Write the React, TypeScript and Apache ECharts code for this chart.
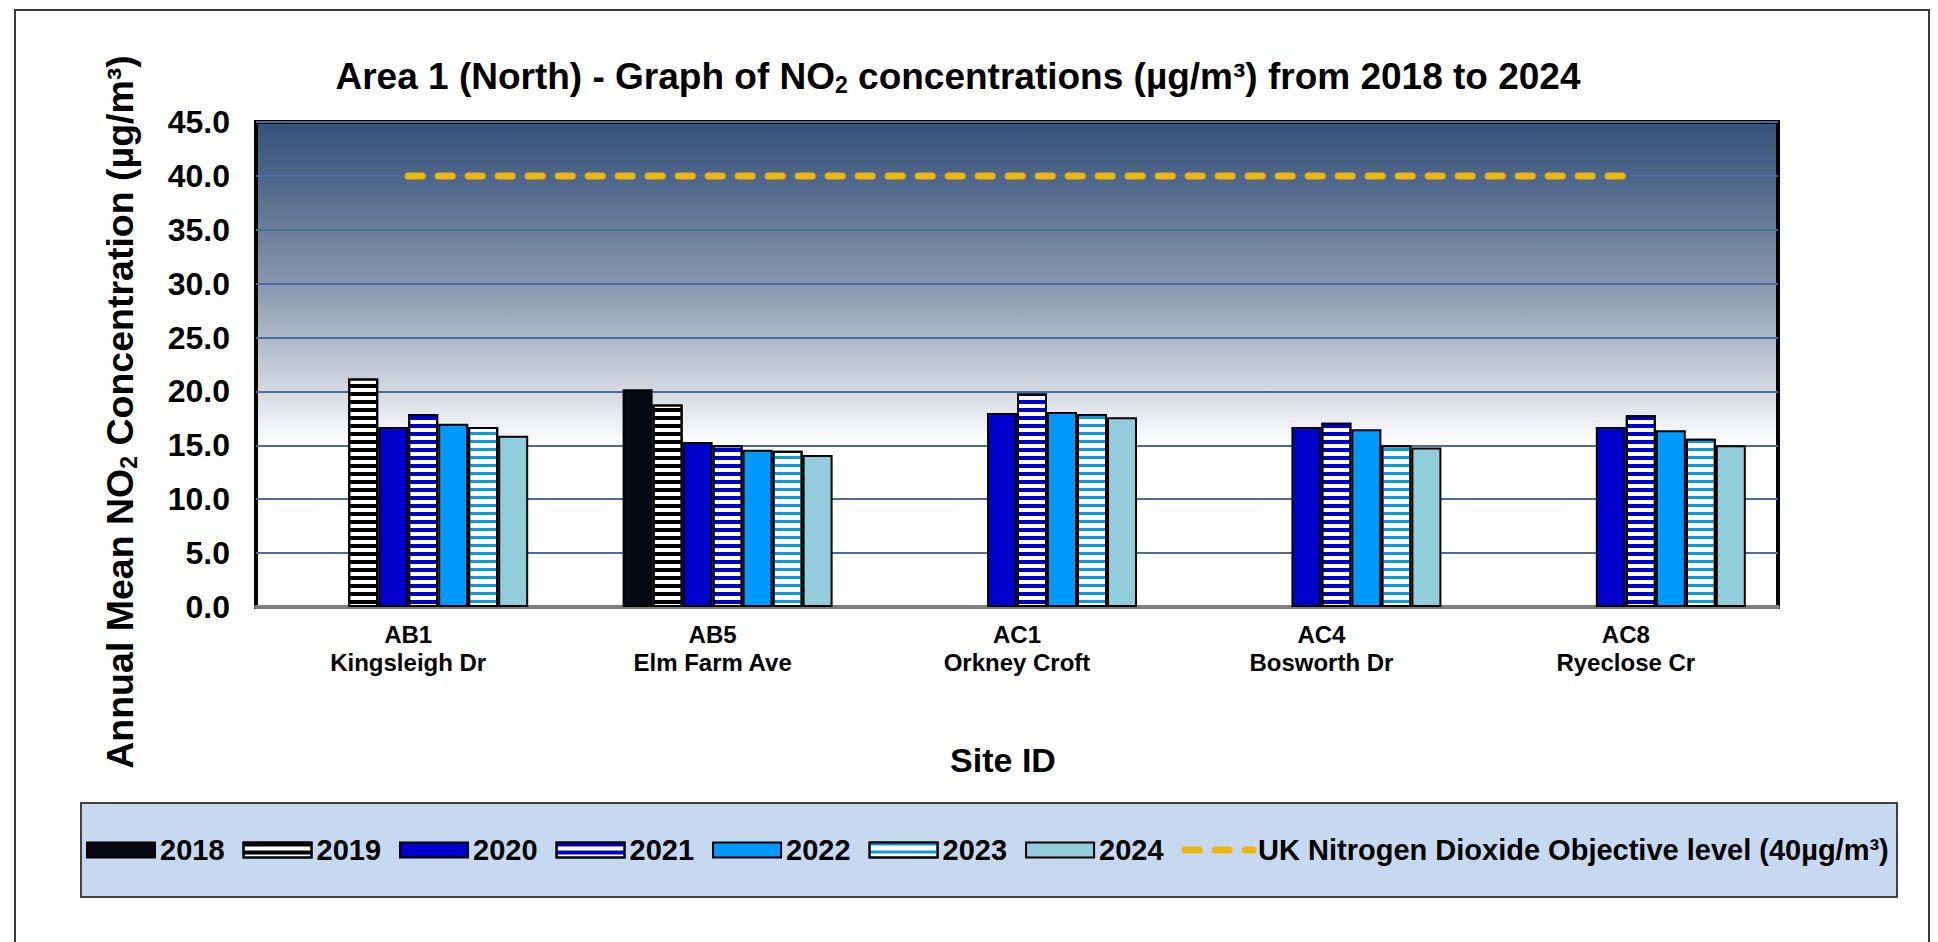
import React, { useEffect, useRef } from 'react';
import * as echarts from 'echarts';

const siteIds = ['AB1', 'AB5', 'AC1', 'AC4', 'AC8'];
const siteNames = ['Kingsleigh Dr', 'Elm Farm Ave', 'Orkney Croft', 'Bosworth Dr', 'Ryeclose Cr'];
const years = ['2018', '2019', '2020', '2021', '2022', '2023', '2024'];
const v2018 = [null, 20.2, null, null, null];
const v2019 = [21.2, 18.8, null, null, null];
const v2020 = [16.7, 15.3, 18.0, 16.7, 16.7];
const v2021 = [17.9, 15.0, 19.8, 17.1, 17.8];
const v2022 = [17.0, 14.6, 18.1, 16.5, 16.4];
const v2023 = [16.7, 14.5, 17.9, 15.0, 15.6];
const v2024 = [15.9, 14.1, 17.6, 14.8, 15.0];
const objectiveLevel = 40;
const objectiveName = 'UK Nitrogen Dioxide Objective level (40µg/m³)';
const yTicks = { min: 0, max: 45, interval: 5 };

const FONT = '"Liberation Sans", Arial, sans-serif';
const GOLD = '#edb50f';

export default function App() {
  const ref = useRef<HTMLDivElement>(null);
  useEffect(() => {
    const chart = echarts.init(ref.current!, null, { renderer: 'svg' });
    const values = [v2018, v2019, v2020, v2021, v2022, v2023, v2024];
    const styles: any[] = [
      { color: '#050a14' },
      { color: '#ffffff', decal: { symbol: 'rect', symbolSize: 1, dashArrayX: [1, 0], dashArrayY: [4, 4], color: '#000000', rotation: 0 } },
      { color: '#0000cc' },
      { color: '#ffffff', decal: { symbol: 'rect', symbolSize: 1, dashArrayX: [1, 0], dashArrayY: [4, 4], color: '#0000cc', rotation: 0 } },
      { color: '#0099ff' },
      { color: '#ffffff', decal: { symbol: 'rect', symbolSize: 1, dashArrayX: [1, 0], dashArrayY: [3, 5], color: '#0e9bd0', rotation: 0 } },
      { color: '#92cddc' },
    ];
    const barSeries = years.map((y, i) => ({
      name: y,
      type: 'bar',
      data: values[i],
      barWidth: 30,
      barGap: '0%',
      itemStyle: { ...styles[i], borderColor: '#000', borderWidth: 2 },
      z: 3,
    }));
    const option: any = {
      animation: false,
      backgroundColor: '#ffffff',
      textStyle: { fontFamily: FONT },
      grid: {
        left: 256,
        right: 160,
        top: 122,
        bottom: 335,
        show: true,
        borderColor: '#000',
        borderWidth: 4,
        backgroundColor: {
          type: 'linear', x: 0, y: 0, x2: 0, y2: 1,
          colorStops: [
            { offset: 0, color: '#33527a' },
            { offset: 0.111, color: '#4d6688' },
            { offset: 0.333, color: '#8797ae' },
            { offset: 0.555, color: '#d4d9e2' },
            { offset: 0.667, color: '#ffffff' },
            { offset: 1, color: '#ffffff' },
          ],
        },
      },
      xAxis: {
        type: 'category',
        data: siteIds.map((s, i) => s + '\n' + siteNames[i]),
        axisLine: { lineStyle: { color: '#7f7f7f', width: 4 } },
        axisTick: { show: false },
        axisLabel: { color: '#000', fontSize: 24, fontWeight: 'bold', lineHeight: 28, margin: 13, fontFamily: FONT },
      },
      yAxis: {
        type: 'value',
        min: yTicks.min,
        max: yTicks.max,
        interval: yTicks.interval,
        axisLine: { show: false },
        axisTick: { show: false },
        splitLine: { lineStyle: { color: '#4a6c9b', width: 2 } },
        axisLabel: { color: '#000', fontSize: 32, fontWeight: 'bold', margin: 26, fontFamily: FONT, formatter: (v: number) => v.toFixed(1) },
      },
      legend: {
        data: [
          ...years.map((y) => ({ name: y, icon: 'rect' })),
          {
            name: objectiveName,
            itemStyle: { opacity: 0, color: 'transparent', borderWidth: 0 },
            lineStyle: { width: 7, type: [14, 16], cap: 'round', color: GOLD, opacity: 1 },
          },
        ],
        left: 86,
        top: 835,
        padding: 0,
        itemWidth: 68,
        itemHeight: 15,
        itemGap: 18,
        lineStyle: { width: 7 },
        textStyle: { color: '#000', fontSize: 29, fontWeight: 'bold', lineHeight: 30, fontFamily: FONT },
      },
      graphic: [
        { type: 'rect', z: -10, shape: { x: 15, y: 10, width: 1914, height: 980 }, style: { fill: 'none', stroke: '#3a3a3a', lineWidth: 2 } },
        { type: 'rect', z: -5, shape: { x: 81, y: 803, width: 1816, height: 94 }, style: { fill: '#c6d9f1', stroke: '#404040', lineWidth: 2 } },
        {
          type: 'text', x: 958, y: 76,
          style: {
            text: 'Area 1 (North) - Graph of NO{sub|2} concentrations (µg/m³) from 2018 to 2024',
            fontSize: 37, fontWeight: 'bold', fontFamily: FONT, fill: '#000', align: 'center', verticalAlign: 'middle',
            rich: { sub: { fontSize: 23, fontWeight: 'bold', fontFamily: FONT, padding: [18, 0, 0, 0] } },
          },
        },
        {
          type: 'text', x: 120, y: 412, rotation: Math.PI / 2,
          style: {
            text: 'Annual Mean NO{sub|2} Concentration (µg/m³)',
            fontSize: 37.5, fontWeight: 'bold', fontFamily: FONT, fill: '#000', align: 'center', verticalAlign: 'middle',
            rich: { sub: { fontSize: 23, fontWeight: 'bold', fontFamily: FONT, padding: [18, 0, 0, 0] } },
          },
        },
        {
          type: 'text', x: 1003, y: 760,
          style: { text: 'Site ID', fontSize: 34, fontWeight: 'bold', fontFamily: FONT, fill: '#000', align: 'center', verticalAlign: 'middle' },
        },
      ],
      series: [
        { name: 'pad', type: 'bar', data: siteIds.map(() => null), barWidth: 30, barGap: '0%' },
        ...barSeries,
        {
          name: objectiveName,
          type: 'line',
          data: siteIds.map(() => objectiveLevel),
          symbol: 'none',
          z: 5,
          lineStyle: { color: GOLD, width: 7, type: [14, 16], cap: 'round' },
          itemStyle: { color: GOLD },
        },
      ],
    };
    chart.setOption(option);
    return () => chart.dispose();
  }, []);
  return <div ref={ref} style={{ position: 'fixed', left: 0, top: 0, width: 1938, height: 942, background: '#fff' }} />;
}
